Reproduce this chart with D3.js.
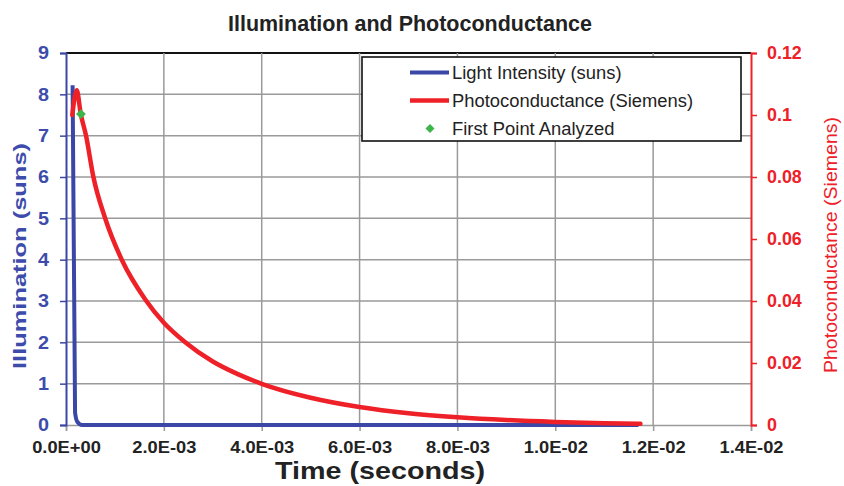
<!DOCTYPE html>
<html>
<head>
<meta charset="utf-8">
<script src="https://cdn.jsdelivr.net/npm/d3@7"></script>
<style>
  html, body { margin: 0; padding: 0; background: #fff; }
  svg { display: block; font-family: "Liberation Sans", Arial, sans-serif; }
</style>
</head>
<body>
<svg id="chart" width="844" height="486"></svg>
<script>
// Time axis (seconds)
const xTicks = [0, 0.002, 0.004, 0.006, 0.008, 0.010, 0.012, 0.014];
const xTickLabels = ["0.0E+00", "2.0E-03", "4.0E-03", "6.0E-03", "8.0E-03", "1.0E-02", "1.2E-02", "1.4E-02"];
const leftTicks = [0, 1, 2, 3, 4, 5, 6, 7, 8, 9];
const rightTicks = [0, 0.02, 0.04, 0.06, 0.08, 0.1, 0.12];
const rightTickLabels = ["0", "0.02", "0.04", "0.06", "0.08", "0.1", "0.12"];

// Light intensity (suns) vs time
const lightTime = [0.000135, 0.000185, 0.00023, 0.00033, 0.0005, 0.00117, 0.0117];
const lightSuns = [8.22, 0.30, 0.08, 0.0, 0.0, 0.0, 0.0];

// Photoconductance (Siemens) vs time
const pcTime = [0.000129, 0.00022, 0.0003, 0.00041, 0.00056, 0.0008, 0.00114, 0.00162, 0.002,
                0.00243, 0.003, 0.0035, 0.004, 0.005, 0.006, 0.007, 0.008, 0.009, 0.010, 0.011, 0.01174];
const pcSiemens = [0.1000, 0.1080, 0.1005, 0.0933, 0.0800, 0.0667, 0.0533, 0.0405, 0.0330,
                   0.0268, 0.0205, 0.0165, 0.0133, 0.0088, 0.0058, 0.0038, 0.0025, 0.0016, 0.0010, 0.0006, 0.0004];

// First analysed point
const firstPointTime = [0.000305];
const firstPointSiemens = [0.1003];

const legendLabels = ["Light Intensity (suns)", "Photoconductance (Siemens)", "First Point Analyzed"];

const BLUE = "#3a47a6";
const BLUE_TEXT = "#3d4cab";
const RED = "#ee2028";
const GREEN = "#3db54a";
const GRID = "#9a9a9a";
const INK = "#222";
const FONT = "Liberation Sans, Arial, sans-serif";

const svg = d3.select("#chart");
const x = d3.scaleLinear().domain([0, 0.014]).range([66, 751]);
const yL = d3.scaleLinear().domain([0, 9]).range([425, 53]);
const yR = d3.scaleLinear().domain([0, 0.12]).range([425, 53]);

// Widen glyphs horizontally by a factor (the chart face is a broad grotesque)
function widen(sel, k) {
  sel.each(function () {
    const w = this.getComputedTextLength();
    d3.select(this).attr("textLength", w * k).attr("lengthAdjust", "spacingAndGlyphs");
  });
}

// Grid
const grid = svg.append("g");
grid.selectAll("line.h").data(leftTicks.slice(1)).join("line")
  .attr("x1", x(0)).attr("x2", x(0.014))
  .attr("y1", d => yL(d)).attr("y2", d => yL(d))
  .attr("stroke", d => d === 9 ? "#111" : GRID).attr("stroke-width", d => d === 9 ? 1.8 : 1.5);
grid.selectAll("line.v").data(xTicks.slice(1, -1)).join("line")
  .attr("x1", d => x(d)).attr("x2", d => x(d))
  .attr("y1", yL(9)).attr("y2", yL(0))
  .attr("stroke", GRID).attr("stroke-width", 1.5);

// Bottom axis
const xAxis = d3.axisBottom(x).tickValues(xTicks)
  .tickFormat((d, i) => xTickLabels[i]).tickSize(6).tickPadding(10);
const gx = svg.append("g").attr("transform", `translate(0,${yL(0)})`).call(xAxis);
gx.select(".domain").attr("stroke", GRID).attr("stroke-width", 1.5);
gx.selectAll(".tick line").attr("stroke", GRID).attr("stroke-width", 1.5);
gx.selectAll(".tick text").attr("fill", INK).attr("font-size", 17).attr("font-weight", "bold")
  .attr("font-family", FONT).call(widen, 1.075);

// Left axis
const yAxisL = d3.axisLeft(yL).tickValues(leftTicks).tickFormat(d3.format("d")).tickSize(6).tickPadding(11);
const gl = svg.append("g").attr("transform", `translate(${x(0)},0)`).call(yAxisL);
gl.select(".domain").attr("stroke", BLUE).attr("stroke-width", 2);
gl.selectAll(".tick line").attr("stroke", BLUE).attr("stroke-width", 1.5);
gl.selectAll(".tick text").attr("fill", BLUE_TEXT).attr("font-size", 18).attr("font-weight", "bold")
  .attr("font-family", FONT).call(widen, 1.1);

// Right axis
const yAxisR = d3.axisRight(yR).tickValues(rightTicks)
  .tickFormat((d, i) => rightTickLabels[i]).tickSize(6).tickPadding(10);
const gr = svg.append("g").attr("transform", `translate(${x(0.014)},0)`).call(yAxisR);
gr.select(".domain").attr("stroke", RED).attr("stroke-width", 2);
gr.selectAll(".tick line").attr("stroke", RED).attr("stroke-width", 1.5);
gr.selectAll(".tick text").attr("fill", RED).attr("font-size", 17.5).attr("font-weight", "bold")
  .attr("font-family", FONT).call(widen, 1.02);

// Series
const lightPts = lightTime.map((t, i) => [t, lightSuns[i]]);
const pcPts = pcTime.map((t, i) => [t, pcSiemens[i]]);

svg.append("path").datum(lightPts)
  .attr("d", d3.line().x(d => x(d[0])).y(d => yL(d[1])).curve(d3.curveMonotoneX))
  .attr("fill", "none").attr("stroke", BLUE).attr("stroke-width", 4)
  .attr("stroke-linejoin", "round");

svg.append("path").datum(pcPts)
  .attr("d", d3.line().x(d => x(d[0])).y(d => yR(d[1])).curve(d3.curveMonotoneX))
  .attr("fill", "none").attr("stroke", RED).attr("stroke-width", 4.5)
  .attr("stroke-linejoin", "round").attr("stroke-linecap", "round");

svg.selectAll("path.fp").data(firstPointTime.map((t, i) => [t, firstPointSiemens[i]])).join("path")
  .attr("class", "fp")
  .attr("d", d3.symbol(d3.symbolSquare, 48))
  .attr("transform", d => `translate(${x(d[0])},${yR(d[1])}) rotate(45)`)
  .attr("fill", GREEN);

// Legend
const lg = svg.append("g");
lg.append("rect").attr("x", 362).attr("y", 57).attr("width", 379).attr("height", 84)
  .attr("fill", "#fff").attr("stroke", "#111").attr("stroke-width", 1.6);
const rows = [72.5, 100.5, 128.5];
lg.append("line").attr("x1", 410).attr("x2", 449).attr("y1", rows[0]).attr("y2", rows[0])
  .attr("stroke", BLUE).attr("stroke-width", 4);
lg.append("line").attr("x1", 410).attr("x2", 449).attr("y1", rows[1]).attr("y2", rows[1])
  .attr("stroke", RED).attr("stroke-width", 4.5);
lg.append("path").attr("d", d3.symbol(d3.symbolSquare, 40))
  .attr("transform", `translate(430,${rows[2]}) rotate(45)`).attr("fill", GREEN);
lg.selectAll("text").data(legendLabels).join("text")
  .attr("x", 452).attr("y", (d, i) => rows[i]).attr("dy", "0.36em")
  .attr("fill", INK).attr("font-size", 17.5).text(d => d)
  .call(widen, 1.05);

// Titles
svg.append("text").attr("x", 410).attr("y", 31).attr("text-anchor", "middle")
  .attr("font-size", 21.5).attr("font-weight", "bold").attr("fill", INK)
  .attr("textLength", 364).attr("lengthAdjust", "spacingAndGlyphs")
  .text("Illumination and Photoconductance");
svg.append("text").attr("x", 380).attr("y", 479).attr("text-anchor", "middle")
  .attr("font-size", 24).attr("font-weight", "bold").attr("fill", INK)
  .attr("textLength", 210).attr("lengthAdjust", "spacingAndGlyphs")
  .text("Time (seconds)");
svg.append("text").attr("transform", "translate(26,256) rotate(-90)").attr("text-anchor", "middle")
  .attr("font-size", 19).attr("font-weight", "bold").attr("fill", BLUE_TEXT)
  .attr("textLength", 226).attr("lengthAdjust", "spacingAndGlyphs")
  .text("Illumination (suns)");
svg.append("text").attr("transform", "translate(837,245) rotate(-90)").attr("text-anchor", "middle")
  .attr("font-size", 18.5).attr("fill", RED)
  .attr("textLength", 256).attr("lengthAdjust", "spacingAndGlyphs")
  .text("Photoconductance (Siemens)");
</script>
</body>
</html>
